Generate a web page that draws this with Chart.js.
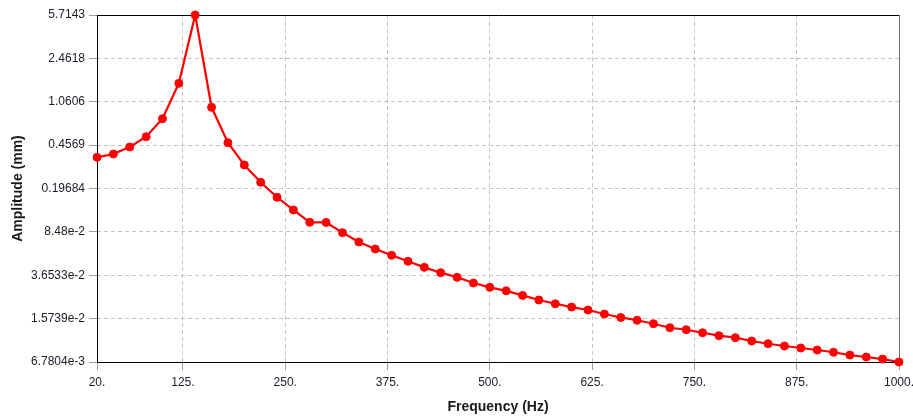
<!DOCTYPE html>
<html>
<head>
<meta charset="utf-8">
<script src="https://cdn.jsdelivr.net/npm/chart.js@4/dist/chart.umd.min.js"></script>
<style>
html,body{margin:0;padding:0;background:#fff;}
#wrap{width:913px;height:419px;}
</style>
</head>
<body>
<div id="wrap"><canvas id="c" width="913" height="419"></canvas></div>
<script>
const frequencies = [20,40,60,80,100,120,140,160,180,200,220,240,260,280,300,320,340,360,380,400,420,440,460,480,500,520,540,560,580,600,620,640,660,680,700,720,740,760,780,800,820,840,860,880,900,920,940,960,980,1000];
const amplitudes = [0.3606,0.3845,0.4405,0.538,0.763,1.517,5.7143,0.952,0.479,0.311,0.222,0.166,0.1297,0.1021,0.1018,0.0835,0.0697,0.0608,0.0538,0.0479,0.0426,0.0384,0.0351,0.0314,0.0289,0.0270,0.0247,0.0226,0.0210,0.0197,0.0186,0.0172,0.0161,0.01524,0.01426,0.01319,0.01269,0.01197,0.01130,0.01087,0.01019,0.00967,0.00925,0.00890,0.00856,0.00819,0.00776,0.00747,0.00718,0.0067804];
const xTickValues = [20,125,250,375,500,625,750,875,1000];
const xTickLabels = ["20.","125.","250.","375.","500.","625.","750.","875.","1000."];
const yTickValues = [6.7804e-3,1.5739e-2,3.6533e-2,8.48e-2,0.19684,0.4569,1.0606,2.4618,5.7143];
const yTickLabels = ["6.7804e-3","1.5739e-2","3.6533e-2","8.48e-2","0.19684","0.4569","1.0606","2.4618","5.7143"];
const xTitle = "Frequency (Hz)";
const yTitle = "Amplitude (mm)";

const points = frequencies.map((f,i)=>({x:f,y:amplitudes[i]}));

const borderPlugin = {
  id:'frame',
  beforeDatasetsDraw(chart){
    const a = chart.chartArea, ctx = chart.ctx;
    ctx.save();
    ctx.lineWidth = 1;
    ctx.strokeStyle = '#000';
    ctx.beginPath();
    ctx.moveTo(a.left+0.5, a.top+0.5);
    ctx.lineTo(a.right+0.5, a.top+0.5);
    ctx.moveTo(a.left+0.5, a.top);
    ctx.lineTo(a.left+0.5, a.bottom+0.5);
    ctx.lineTo(a.right+0.5, a.bottom+0.5);
    ctx.stroke();
    ctx.strokeStyle = '#707070';
    ctx.beginPath();
    ctx.moveTo(a.right+0.5, a.top);
    ctx.lineTo(a.right+0.5, a.bottom);
    ctx.stroke();
    ctx.restore();
  }
};
const tickFont = {family:"'Liberation Sans', Arial, sans-serif", size:12};
const titleFont = {family:"'Liberation Sans', Arial, sans-serif", size:14, weight:'bold'};

new Chart(document.getElementById('c'), {
  type:'line',
  data:{datasets:[{
    data:points,
    borderColor:'#ff0000',
    backgroundColor:'#ff0000',
    borderWidth:2.2,
    pointRadius:4,
    pointHoverRadius:4,
    pointBackgroundColor:'#ff0000',
    pointBorderColor:'#ff0000',
    pointBorderWidth:1,
    tension:0,
    clip:false
  }]},
  plugins:[borderPlugin],
  options:{
    responsive:false,
    animation:false,
    layout:{padding:{left:0,top:15,right:14,bottom:0}},
    plugins:{legend:{display:false},tooltip:{enabled:false}},
    scales:{
      x:{
        type:'linear',
        min:20,max:1000,
        afterBuildTicks(s){ s.ticks = xTickValues.map(v=>({value:v})); },
        afterFit(s){ s.height = 57; s.paddingLeft = 0; s.paddingRight = 0; },
        ticks:{autoSkip:false,maxRotation:0,color:'#1a1a2a',font:tickFont,padding:5,
          callback(v){ const i = xTickValues.indexOf(v); return i>=0 ? xTickLabels[i] : ''; }},
        grid:{color:'#c4c4c4',lineWidth:1,tickColor:'#a0a0a0',tickLength:8,tickBorderDash:[0,0]},
        border:{display:false,dash:[4,3]},
        title:{display:true,text:xTitle,color:'#1a1a1a',font:titleFont,padding:{top:0,bottom:3}}
      },
      y:{
        type:'logarithmic',
        min:6.7804e-3,max:5.7143,
        afterBuildTicks(s){ s.ticks = yTickValues.map(v=>({value:v})); },
        afterFit(s){ s.width = 97; s.paddingTop = 0; s.paddingBottom = 0; },
        ticks:{autoSkip:false,color:'#1a1a2a',font:tickFont,padding:4,
          callback(v){ let best=0,bd=Infinity; yTickValues.forEach((t,i)=>{const d=Math.abs(Math.log(t)-Math.log(v)); if(d<bd){bd=d;best=i;}}); return yTickLabels[best]; }},
        grid:{color:'#c4c4c4',lineWidth:1,tickColor:'#a0a0a0',tickLength:8,tickBorderDash:[0,0]},
        border:{display:false,dash:[4,3]},
        title:{display:true,text:yTitle,color:'#1a1a1a',font:titleFont,padding:{top:10,bottom:0}}
      }
    }
  }
});
</script>
</body>
</html>
